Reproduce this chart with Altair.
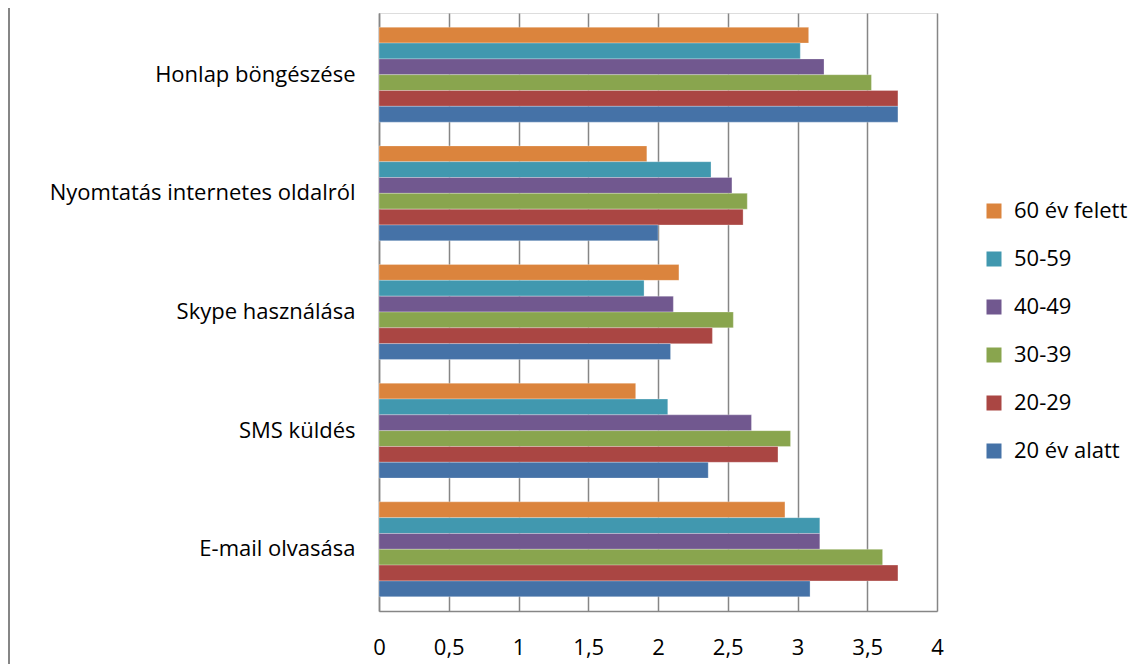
import altair as alt
import pandas as pd

categories = ["Honlap böngészése", "Nyomtatás internetes oldalról", "Skype használása", "SMS küldés", "E-mail olvasása"]
groups = ["60 év felett", "50-59", "40-49", "30-39", "20-29", "20 év alatt"]
colors = ["#DB843D", "#4198AF", "#71588F", "#89A54E", "#AA4643", "#4572A7"]

v_60_felett = [3.08, 1.92, 2.15, 1.84, 2.91]
v_50_59 = [3.02, 2.38, 1.90, 2.07, 3.16]
v_40_49 = [3.19, 2.53, 2.11, 2.67, 3.16]
v_30_39 = [3.53, 2.64, 2.54, 2.95, 3.61]
v_20_29 = [3.72, 2.61, 2.39, 2.86, 3.72]
v_20_alatt = [3.72, 2.00, 2.09, 2.36, 3.09]

series = [v_60_felett, v_50_59, v_40_49, v_30_39, v_20_29, v_20_alatt]
rows = []
for g, vals in zip(groups, series):
    for c, v in zip(categories, vals):
        rows.append({"kat": c, "csoport": g, "ertek": v})
df = pd.DataFrame(rows)

FONT = "Open Sans"
FS = 22

bars = alt.Chart(df).mark_bar(stroke="white", strokeOpacity=0.35, strokeWidth=0.8).encode(
    y=alt.Y("kat:N", sort=categories, title=None,
            scale=alt.Scale(paddingInner=0.2, paddingOuter=0.12),
            axis=alt.Axis(labelFont=FONT, labelFontSize=FS, labelColor="#000000",
                          labelPadding=24, ticks=False, domainColor="#868686",
                          domainWidth=1.5, labelLimit=400)),
    yOffset=alt.YOffset("csoport:N", sort=groups),
    x=alt.X("ertek:Q", title=None,
            scale=alt.Scale(domain=[0, 4], nice=False),
            axis=alt.Axis(values=[0, 0.5, 1, 1.5, 2, 2.5, 3, 3.5, 4],
                          labelExpr="replace(format(datum.value, ''), '.', ',')",
                          labelFont=FONT, labelFontSize=FS, labelColor="#000000",
                          labelPadding=26, ticks=False, grid=True, gridColor="#868686",
                          gridWidth=1.5, domainColor="#868686", domainWidth=1.5,
                          labelFlush=False)),
    color=alt.Color("csoport:N", scale=alt.Scale(domain=groups, range=colors),
                    legend=alt.Legend(title=None, orient="none", legendX=604, legendY=187,
                                      symbolType="square", symbolSize=225, symbolStrokeWidth=0,
                                      labelFont=FONT, labelFontSize=FS, labelColor="#000000",
                                      clipHeight=22, rowPadding=26, labelOffset=9,
                                      labelLimit=300)),
)

border = alt.Chart(pd.DataFrame({"a": [0]})).mark_rule(color="#868686", strokeWidth=2).encode(
    x=alt.value(-370), y=alt.value(-5), y2=alt.value(651)
)

chart = alt.layer(bars, border).properties(
    width=558, height=598,
    autosize=alt.AutoSizeParams(type="none"),
    padding={"left": 371, "top": 5, "right": 202, "bottom": 53},
).configure_view(stroke=None).configure(background="white")

chart.save("out.html", embed_options={"renderer": "svg", "actions": False})
